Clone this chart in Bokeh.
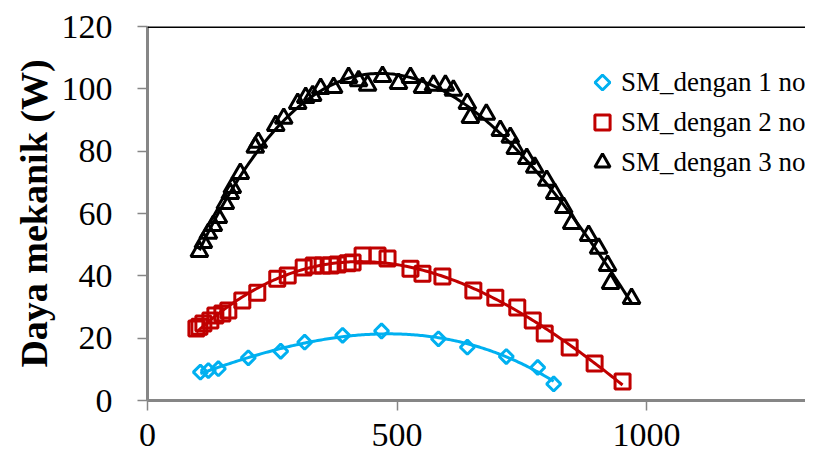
import numpy as np
from bokeh.plotting import figure
from bokeh.models import (SingleIntervalTicker, Legend, LegendItem, Range1d, Span,
                          PolyAnnotation)
from bokeh.embed import file_html
from bokeh.resources import INLINE

# ---- data ----
sm1_x = [106, 122, 142, 202, 267, 315, 391, 469, 583, 641, 719, 782, 814]
sm1_y = [9.1, 9.6, 10.2, 13.7, 15.8, 18.7, 20.9, 22.3, 19.8, 17.1, 14.1, 10.6, 5.3]

sm2_x = [98, 104, 112, 126, 136, 150, 162, 190, 220, 260, 281, 313, 333, 351, 367,
         381, 401, 411, 431, 461, 481, 527, 551, 591, 653, 697, 741, 772, 796, 846,
         896, 952]
sm2_y = [23.1, 23.7, 24.7, 25.7, 27.3, 27.9, 28.9, 32.1, 34.6, 39.1, 40.1, 42.7, 43.3,
         43.3, 43.3, 43.6, 44.0, 44.3, 46.5, 46.5, 45.6, 42.3, 40.7, 39.8, 35.3, 33.0,
         29.8, 25.7, 21.5, 17.0, 11.9, 6.1]

sm3_x = [104, 112, 122, 132, 142, 156, 166, 170, 186, 216, 222, 257, 273, 301, 317,
         331, 347, 373, 403, 423, 441, 471, 503, 527, 551, 573, 597, 613, 641, 647,
         679, 707, 727, 737, 760, 776, 800, 816, 834, 850, 884, 904, 922, 928, 970]
sm3_y = [47.8, 50.7, 53.6, 56.1, 58.7, 63.2, 66.4, 68.3, 72.8, 81.2, 82.8, 88.2, 90.5,
         95.3, 97.2, 97.8, 100.1, 100.4, 103.6, 102.6, 101.1, 103.9, 101.7, 103.6,
         100.4, 101.1, 101.1, 99.5, 95.3, 90.8, 91.8, 86.6, 84.4, 80.8, 77.6, 74.8,
         70.6, 66.4, 61.9, 56.8, 52.9, 48.8, 43.3, 37.5, 32.7]

labels = ["SM_dengan 1 no", "SM_dengan 2 no", "SM_dengan 3 no"]
y_max = 120
y_ticks_interval = 20
x_ticks_interval = 500

BLUE = "#00B0F0"
RED = "#C00000"
BLACK = "#000000"
GRAY = "#868686"
SERIF = "Liberation Serif"

p = figure(width=805, height=454, output_backend="svg", toolbar_location=None,
           x_range=Range1d(0, 1318.6), y_range=Range1d(0, y_max),
           min_border_left=147, min_border_right=0, min_border_top=26,
           min_border_bottom=54)
p.background_fill_color = "white"
p.border_fill_color = "white"
p.outline_line_color = None
p.grid.visible = False
p.add_layout(Span(location=y_max, dimension="width", line_color=BLACK, line_width=3))

for ax in (p.xaxis[0], p.yaxis[0]):
    ax.axis_line_color = GRAY
    ax.axis_line_width = 3
    ax.major_tick_line_color = GRAY
    ax.major_tick_line_width = 1.5
    ax.major_tick_out = 10
    ax.major_tick_in = 0
    ax.minor_tick_line_color = None
    ax.major_label_text_font = SERIF
    ax.major_label_text_font_size = "34px"
    ax.major_label_text_color = "black"

p.xaxis[0].ticker = SingleIntervalTicker(interval=x_ticks_interval)
p.yaxis[0].ticker = SingleIntervalTicker(interval=y_ticks_interval)
p.xaxis[0].major_label_standoff = 13
p.yaxis[0].major_label_standoff = 25
p.yaxis[0].axis_label = "Daya mekanik (W)"
p.yaxis[0].axis_label_text_font = SERIF
p.yaxis[0].axis_label_text_font_style = "bold"
p.yaxis[0].axis_label_text_font_size = "38px"
p.yaxis[0].axis_label_text_color = "black"
p.yaxis[0].axis_label_standoff = 4

series = [
    (sm1_x, sm1_y, BLUE, "square", 10, 45, 3),
    (sm2_x, sm2_y, RED, "square", 15, 0, 3),
    (sm3_x, sm3_y, BLACK, "triangle", 17, 0, 3),
]

items = []
for i, ((xs, ys, col, mk, sz, ang, lw), lab) in enumerate(zip(series, labels)):
    xa = np.array(xs, dtype=float)
    ya = np.array(ys, dtype=float)
    coef = np.polyfit(xa, ya, 3)
    xx = np.linspace(xa.min(), xa.max(), 200)
    p.line(xx, np.polyval(coef, xx), line_color=col, line_width=3)
    r = p.scatter(xs, ys, marker=mk, size=sz, angle=ang, angle_units="deg",
                  fill_color=None, line_color=col, line_width=lw)
    if i == 0:
        # legend swatch drawn separately as a square diamond (Bokeh's legend ignores angle)
        r = p.scatter(x=[], y=[], marker="square", size=1, fill_color=None,
                      line_alpha=0)
    items.append(LegendItem(label=lab, renderers=[r]))

legend = Legend(items=items, location=(436, 218), orientation="vertical",
                background_fill_alpha=0, border_line_color=None,
                padding=0, margin=0, spacing=0,
                glyph_width=38, glyph_height=40, label_standoff=-9,
                label_text_font=SERIF, label_text_font_size="27px",
                label_text_color="black")
p.add_layout(legend, "center")

# diamond swatch for the first legend entry (screen units)
cx, cy, h = 455, 318, 7.5
p.add_layout(PolyAnnotation(xs=[cx, cx + h, cx, cx - h], ys=[cy + h, cy, cy - h, cy],
                            xs_units="screen", ys_units="screen",
                            fill_color=None, fill_alpha=0,
                            line_color=BLUE, line_alpha=1.0, line_width=3))

open("out.html", "w").write(file_html(p, INLINE))
